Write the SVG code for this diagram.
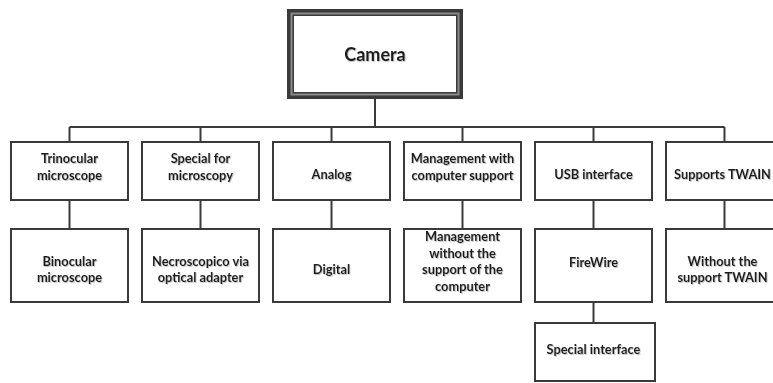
<svg xmlns="http://www.w3.org/2000/svg" width="773" height="383" viewBox="0 0 773 383">
<defs>
<filter id="sh" x="-10%" y="-10%" width="130%" height="150%">
<feDropShadow dx="0.8" dy="0.8" stdDeviation="0.6" flood-color="#888" flood-opacity="0.6"/>
</filter>
</defs>
<style>
.box{fill:#fff;stroke:#3a3a3a;stroke-width:2}
.ln{fill:none;stroke:#3a3a3a;stroke-width:2}
text{font-family:Lato,"Liberation Sans",sans-serif;font-weight:bold;font-size:12.8px;fill:#1e1e1e;text-anchor:middle;filter:url(#sh)}
.big{font-size:18px}
</style>
<rect width="773" height="383" fill="#fff"/>
<g id="connectors">
<path class="ln" d="M375 99V127M69.5 127H724.5M69.5 127V142M200.5 127V142M331.5 127V142M462.5 127V142M593.5 127V142M724.5 127V142"/>
<path class="ln" d="M69.5 200V229M200.5 200V229M331.5 200V229M462.5 200V229M593.5 200V229M724.5 200V229M593.5 302V323"/>
</g>
<g id="camera">
<rect x="287" y="9" width="176" height="90" fill="#3a3a3a"/>
<rect x="290.5" y="12.5" width="169" height="83" fill="#8a8a8a"/>
<rect x="292.5" y="14.5" width="165" height="79" fill="#3a3a3a"/>
<rect x="294" y="16" width="162" height="76" fill="#fff"/>
<text class="big" x="375" y="61">Camera</text>
</g>
<g id="trinocular">
<rect class="box" x="11" y="142" width="117" height="58"/>
<text x="69.5" y="163">Trinocular</text><text x="69.5" y="179.5">microscope</text>
</g>
<g id="special-microscopy">
<rect class="box" x="142" y="142" width="117" height="58"/>
<text x="200.5" y="163">Special for</text><text x="200.5" y="179.5">microscopy</text>
</g>
<g id="analog">
<rect class="box" x="273" y="142" width="117" height="58"/>
<text x="331.5" y="179">Analog</text>
</g>
<g id="management-with">
<rect class="box" x="404" y="142" width="117" height="58"/>
<text x="462.5" y="163">Management with</text><text x="462.5" y="179.5">computer support</text>
</g>
<g id="usb">
<rect class="box" x="535" y="142" width="117" height="58"/>
<text x="593.5" y="179">USB interface</text>
</g>
<g id="twain">
<rect class="box" x="666" y="142" width="118" height="58"/>
<text x="722.5" y="179">Supports TWAIN</text>
</g>
<g id="binocular">
<rect class="box" x="11" y="229" width="117" height="73"/>
<text x="69.5" y="266">Binocular</text><text x="69.5" y="282">microscope</text>
</g>
<g id="necroscopico">
<rect class="box" x="142" y="229" width="117" height="73"/>
<text x="200.5" y="266">Necroscopico via</text><text x="200.5" y="282">optical adapter</text>
</g>
<g id="digital">
<rect class="box" x="273" y="229" width="117" height="73"/>
<text x="331.5" y="274">Digital</text>
</g>
<g id="management-without">
<rect class="box" x="404" y="229" width="117" height="73"/>
<text x="462.5" y="241">Management</text><text x="462.5" y="257.5">without the</text><text x="462.5" y="274">support of the</text><text x="462.5" y="290.5">computer</text>
</g>
<g id="firewire">
<rect class="box" x="535" y="229" width="117" height="73"/>
<text x="593.5" y="266.5">FireWire</text>
</g>
<g id="without-twain">
<rect class="box" x="666" y="229" width="118" height="73"/>
<text x="722.5" y="266">Without the</text><text x="722.5" y="282">support TWAIN</text>
</g>
<g id="special-interface">
<rect class="box" x="535" y="323" width="120" height="58"/>
<text x="593.5" y="354">Special interface</text>
</g>
</svg>
